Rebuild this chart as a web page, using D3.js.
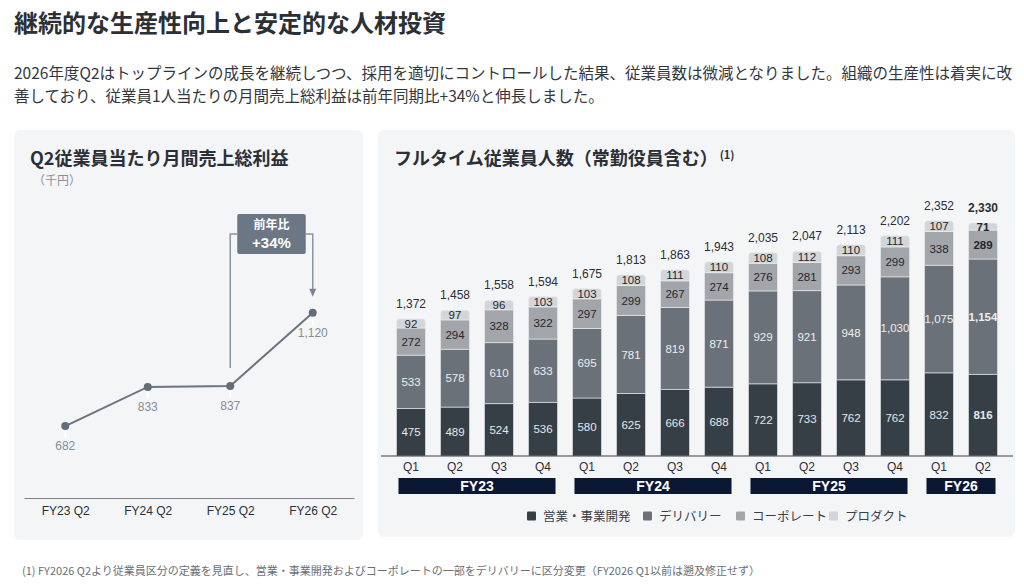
<!DOCTYPE html>
<html>
<head>
<meta charset="utf-8">
<script src="https://cdn.jsdelivr.net/npm/d3@7"></script>
<style>
  body { margin: 0; background: #fff; }
  svg { display: block; }
  .jp { font-family: "Noto Sans CJK JP", "Noto Sans", sans-serif; }
  .num { font-family: "Liberation Sans", Arial, sans-serif; }
</style>
</head>
<body>
<div id="wrapper"></div>
<script>
/* DATA */
const gpCategories = ['FY23 Q2', 'FY24 Q2', 'FY25 Q2', 'FY26 Q2'];
const gpValues = [682, 833, 837, 1120];
const gpLabels = ['682', '833', '837', '1,120'];

const quarters = ['Q1', 'Q2', 'Q3', 'Q4', 'Q1', 'Q2', 'Q3', 'Q4', 'Q1', 'Q2', 'Q3', 'Q4', 'Q1', 'Q2'];
const fiscalYears = [
  { name: 'FY23', from: 0, to: 3 },
  { name: 'FY24', from: 4, to: 7 },
  { name: 'FY25', from: 8, to: 11 },
  { name: 'FY26', from: 12, to: 13 }
];
const salesBiz = [475, 489, 524, 536, 580, 625, 666, 688, 722, 733, 762, 762, 832, 816];
const delivery = [533, 578, 610, 633, 695, 781, 819, 871, 929, 921, 948, 1030, 1075, 1154];
const corporate = [272, 294, 328, 322, 297, 299, 267, 274, 276, 281, 293, 299, 338, 289];
const product = [92, 97, 96, 103, 103, 108, 111, 110, 108, 112, 110, 111, 107, 71];
const totals = [1372, 1458, 1558, 1594, 1675, 1813, 1863, 1943, 2035, 2047, 2113, 2202, 2352, 2330];

const seriesNames = ['営業・事業開発', 'デリバリー', 'コーポレート', 'プロダクト'];
const seriesColors = ['#363e46', '#6b7178', '#a2a6ab', '#d3d6d9'];
const seriesTextColors = ['#e6e8ea', '#eceef0', '#23272c', '#23272c'];

/* DIMENSIONS */
const width = 1024, height = 586;

const svg = d3.select('#wrapper')
  .append('svg')
  .attr('width', width)
  .attr('height', height)
  .attr('viewBox', [0, 0, width, height]);

/* HEADER */
svg.append('text')
  .attr('class', 'jp')
  .attr('x', 14).attr('y', 32)
  .attr('font-size', 24).attr('font-weight', 700)
  .attr('fill', '#2b2f36')
  .text('継続的な生産性向上と安定的な人材投資');

const para = [
  '2026年度Q2はトップラインの成長を継続しつつ、採用を適切にコントロールした結果、従業員数は微減となりました。組織の生産性は着実に改',
  '善しており、従業員1人当たりの月間売上総利益は前年同期比+34%と伸長しました。'
];
svg.append('g')
  .selectAll('text')
  .data(para)
  .join('text')
  .attr('class', 'jp')
  .attr('x', 14)
  .attr('y', (d, i) => 79 + i * 23)
  .attr('font-size', 15.5)
  .attr('fill', '#33373d')
  .text(d => d);

svg.append('text')
  .attr('class', 'jp')
  .attr('x', 22).attr('y', 575)
  .attr('font-size', 11)
  .attr('fill', '#6a6f76')
  .text('(1) FY2026 Q2より従業員区分の定義を見直し、営業・事業開発およびコーポレートの一部をデリバリーに区分変更（FY2026 Q1以前は遡及修正せず）');

/* PANELS */
svg.append('rect')
  .attr('x', 14).attr('y', 130).attr('width', 349).attr('height', 410)
  .attr('rx', 6).attr('fill', '#f4f5f7');
svg.append('rect')
  .attr('x', 378).attr('y', 130).attr('width', 637).attr('height', 407)
  .attr('rx', 6).attr('fill', '#f4f5f7');

/* LEFT: GROSS PROFIT PER EMPLOYEE */
const left = svg.append('g');

left.append('text')
  .attr('class', 'jp')
  .attr('x', 30).attr('y', 165)
  .attr('font-size', 18).attr('font-weight', 700)
  .attr('fill', '#2b2f36')
  .text('Q2従業員当たり月間売上総利益');
left.append('text')
  .attr('class', 'jp')
  .attr('x', 33).attr('y', 185)
  .attr('font-size', 12)
  .attr('fill', '#8a9099')
  .text('（千円）');

const gpX = d3.scalePoint()
  .domain(gpCategories)
  .range([24, 354])
  .padding(0.5);

const gpY = d3.scaleLinear()
  .domain([400, 1200])
  .range([499, 292]);

const gpAxis = left.append('g')
  .attr('transform', 'translate(0, 498)')
  .call(d3.axisBottom(gpX).tickSize(0).tickPadding(8));
gpAxis.select('.domain').attr('stroke', '#7d828a').attr('stroke-width', 1.2);
gpAxis.selectAll('text')
  .attr('class', 'num')
  .attr('font-size', 12)
  .attr('fill', '#2b2f36');

const gpPoints = gpCategories.map((c, i) => ({ c, v: gpValues[i], label: gpLabels[i] }));

// faint leader below each point
left.append('g')
  .selectAll('line')
  .data(gpPoints)
  .join('line')
  .attr('x1', d => gpX(d.c)).attr('x2', d => gpX(d.c))
  .attr('y1', d => gpY(d.v) + 5).attr('y2', d => gpY(d.v) + 12)
  .attr('stroke', '#ffffff').attr('stroke-width', 1.5);

left.append('path')
  .datum(gpPoints)
  .attr('d', d3.line().x(d => gpX(d.c)).y(d => gpY(d.v)))
  .attr('fill', 'none')
  .attr('stroke', '#6b7480')
  .attr('stroke-width', 2);

left.append('g')
  .selectAll('circle')
  .data(gpPoints)
  .join('circle')
  .attr('cx', d => gpX(d.c))
  .attr('cy', d => gpY(d.v))
  .attr('r', 4)
  .attr('fill', '#636c78');

left.append('g')
  .selectAll('text')
  .data(gpPoints)
  .join('text')
  .attr('class', 'num')
  .attr('x', d => gpX(d.c))
  .attr('y', d => gpY(d.v) + 24)
  .attr('text-anchor', 'middle')
  .attr('font-size', 12)
  .attr('fill', '#858d98')
  .text(d => d.label);

// year-over-year annotation
const fromX = gpX(gpCategories[2]), toX = gpX(gpCategories[3]);
const boxTop = 214, boxH = 40, boxL = fromX + 7, boxR = toX - 7;
const bracketY = boxTop + 20;

left.append('path')
  .attr('d', `M${fromX},${gpY(gpValues[2]) - 18} V${bracketY} H${boxL} M${boxR},${bracketY} H${toX} V${gpY(gpValues[3]) - 22}`)
  .attr('fill', 'none')
  .attr('stroke', '#8a939e')
  .attr('stroke-width', 1.5);
left.append('path')
  .attr('d', `M${toX - 3.5},${gpY(gpValues[3]) - 24} L${toX + 3.5},${gpY(gpValues[3]) - 24} L${toX},${gpY(gpValues[3]) - 16} Z`)
  .attr('fill', '#7b8491');

left.append('rect')
  .attr('x', boxL).attr('y', boxTop)
  .attr('width', boxR - boxL).attr('height', boxH)
  .attr('rx', 2)
  .attr('fill', '#6b7785');
left.append('text')
  .attr('class', 'jp')
  .attr('x', (boxL + boxR) / 2).attr('y', boxTop + 15)
  .attr('text-anchor', 'middle')
  .attr('font-size', 12).attr('font-weight', 700)
  .attr('fill', '#fff')
  .text('前年比');
left.append('text')
  .attr('class', 'num')
  .attr('x', (boxL + boxR) / 2).attr('y', boxTop + 34)
  .attr('text-anchor', 'middle')
  .attr('font-size', 15).attr('font-weight', 700)
  .attr('fill', '#fff')
  .text('+34%');

/* RIGHT: HEADCOUNT STACKED BARS */
const right = svg.append('g');

const rTitle = right.append('text')
  .attr('class', 'jp')
  .attr('x', 394).attr('y', 165)
  .attr('font-size', 18).attr('font-weight', 700)
  .attr('fill', '#2b2f36');
rTitle.append('tspan').text('フルタイム従業員人数（常勤役員含む）');
rTitle.append('tspan')
  .attr('dx', 2).attr('dy', -6)
  .attr('font-size', 11)
  .text('(1)');

const idx = d3.range(quarters.length);
const x = d3.scaleBand()
  .domain(idx)
  .range([389, 1005])
  .paddingInner(0.34)
  .paddingOuter(0.17);

const y = d3.scaleLinear()
  .domain([0, 2500])
  .range([456, 206]);

const seriesData = [salesBiz, delivery, corporate, product];
const rows = idx.map(i => ({
  i,
  s0: salesBiz[i], s1: delivery[i], s2: corporate[i], s3: product[i]
}));
const stacked = d3.stack().keys(['s0', 's1', 's2', 's3'])(rows);

const bw = x.bandwidth();
const barsG = right.append('g');

stacked.forEach((layer, k) => {
  const isTop = k === stacked.length - 1;
  const g = barsG.append('g');
  g.selectAll('path')
    .data(layer)
    .join('path')
    .attr('d', d => {
      const x0 = x(d.data.i), x1 = x0 + bw;
      const yTop = y(d[1]), yBot = y(d[0]);
      if (!isTop) return `M${x0},${yBot} V${yTop} H${x1} V${yBot} Z`;
      const r = 3;
      return `M${x0},${yBot} V${yTop + r} Q${x0},${yTop} ${x0 + r},${yTop} H${x1 - r} Q${x1},${yTop} ${x1},${yTop + r} V${yBot} Z`;
    })
    .attr('fill', seriesColors[k])
    .attr('stroke', '#eef0f2')
    .attr('stroke-width', 0.6);

  g.selectAll('text')
    .data(layer)
    .join('text')
    .attr('class', 'num')
    .attr('x', d => x(d.data.i) + bw / 2)
    .attr('y', d => (y(d[0]) + y(d[1])) / 2)
    .attr('dy', '0.36em')
    .attr('text-anchor', 'middle')
    .attr('font-size', 11.5)
    .attr('font-weight', d => d.data.i === quarters.length - 1 ? 700 : 400)
    .attr('fill', seriesTextColors[k])
    .text(d => d3.format(',')(seriesData[k][d.data.i]));
});

// totals
right.append('g')
  .selectAll('text')
  .data(idx)
  .join('text')
  .attr('class', 'num')
  .attr('x', i => x(i) + bw / 2)
  .attr('y', i => y(totals[i]) - 11)
  .attr('text-anchor', 'middle')
  .attr('font-size', 12)
  .attr('font-weight', i => i === quarters.length - 1 ? 700 : 400)
  .attr('fill', '#2b2f36')
  .text(i => d3.format(',')(totals[i]));

// baseline and quarter ticks
right.append('line')
  .attr('x1', 381).attr('x2', 1013)
  .attr('y1', y(0)).attr('y2', y(0))
  .attr('stroke', '#3a3f46').attr('stroke-width', 1);

right.append('g')
  .selectAll('text')
  .data(idx)
  .join('text')
  .attr('class', 'num')
  .attr('x', i => x(i) + bw / 2)
  .attr('y', 471)
  .attr('text-anchor', 'middle')
  .attr('font-size', 12)
  .attr('fill', '#2b2f36')
  .text(i => quarters[i]);

// fiscal year bands
const fyG = right.append('g')
  .selectAll('g')
  .data(fiscalYears)
  .join('g');
fyG.append('rect')
  .attr('x', d => x(d.from) + 2)
  .attr('y', 478)
  .attr('width', d => x(d.to) + bw - x(d.from) - 4)
  .attr('height', 16)
  .attr('fill', '#0b1834');
fyG.append('text')
  .attr('class', 'num')
  .attr('x', d => (x(d.from) + x(d.to) + bw) / 2)
  .attr('y', 491)
  .attr('text-anchor', 'middle')
  .attr('font-size', 14).attr('font-weight', 700)
  .attr('fill', '#fff')
  .text(d => d.name);

// legend
const legendX = [527, 643, 736, 829];
const legend = right.append('g')
  .selectAll('g')
  .data(seriesNames)
  .join('g')
  .attr('transform', (d, i) => `translate(${legendX[i]}, 516)`);
legend.append('rect')
  .attr('x', 0).attr('y', -4.5)
  .attr('width', 9).attr('height', 9)
  .attr('rx', 1)
  .attr('fill', (d, i) => seriesColors[i]);
legend.append('text')
  .attr('class', 'jp')
  .attr('x', 16).attr('dy', '0.36em')
  .attr('font-size', 12.5)
  .attr('fill', '#3b4047')
  .text(d => d);
</script>
</body>
</html>
